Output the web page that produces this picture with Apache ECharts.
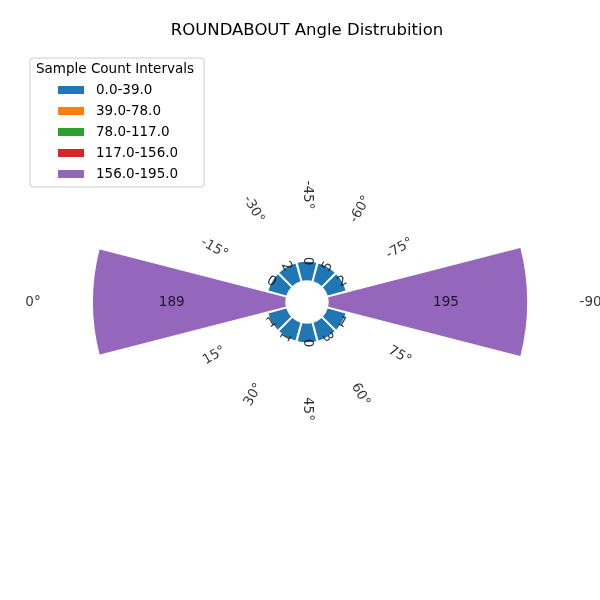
<!DOCTYPE html>
<html>
<head>
<meta charset="utf-8">
<script src="https://cdn.jsdelivr.net/npm/echarts@6/dist/echarts.min.js"></script>
<style>html,body{margin:0;padding:0;background:#fff}#c{width:600px;height:600px}</style>
</head>
<body>
<div id="c"></div>
<script>
// ---- data ----
var thetaBins = [-90, -75, -60, -45, -30, -15, 0, 15, 30, 45, 60, 75];
var tickLabels = ['-90°', '-75°', '-60°', '-45°', '-30°', '-15°', '0°', '15°', '30°', '45°', '60°', '75°'];
var counts = [195, 2, 5, 0, 2, 0, 189, 1, 1, 0, 3, 1];
var intervalEdges = [0, 39, 78, 117, 156, 195];
var intervalLabels = ['0.0-39.0', '39.0-78.0', '78.0-117.0', '117.0-156.0', '156.0-195.0'];
var intervalColors = ['#1f77b4', '#ff7f0e', '#2ca02c', '#d62728', '#9467bd'];

var FONT = 'DejaVu Sans';
var maxCount = Math.max.apply(null, counts);
var minH = 0.1 * maxCount;
function dispH(c) { return Math.max(c, minH); }
function intervalOf(c) {
  for (var k = 0; k < intervalLabels.length; k++) {
    var lo = intervalEdges[k], hi = intervalEdges[k + 1];
    if (c >= lo && (c < hi || (k === intervalLabels.length - 1 && c <= hi))) return k;
  }
  return 0;
}
// geometric angle (deg, ccw from east) of a theta bin: 0° at west, -45° at top
function geo(t) { return 180 + 2 * t; }
function radialRot(t) {
  var g = ((geo(t) % 360) + 360) % 360;
  if (g >= 270) g -= 360;
  if (g >= 90) g -= 180;
  return g;
}

var series = [];
intervalLabels.forEach(function (name, k) {
  series.push({
    type: 'bar', name: name, coordinateSystem: 'polar', stack: 'bins',
    barCategoryGap: '4%',
    itemStyle: { color: intervalColors[k], borderColor: '#ffffff', borderWidth: 1.5 },
    data: counts.map(function (c) { return intervalOf(c) === k ? dispH(c) : '-'; }),
    z: 2
  });
});

// count labels
series.push({
  type: 'scatter', coordinateSystem: 'polar', symbolSize: 0, z: 5, silent: true,
  data: counts.map(function (c, i) {
    var h = dispH(c);
    var r = h > 50 ? h * 0.59 : h;
    return {
      value: [r, i],
      label: { show: true, position: 'inside', formatter: String(c), rotate: radialRot(thetaBins[i]),
        color: '#000', fontSize: 13.5, fontFamily: FONT }
    };
  })
});

// angular tick labels
series.push({
  type: 'scatter', coordinateSystem: 'polar', symbolSize: 0, z: 5, silent: true,
  data: thetaBins.map(function (t, i) {
    var r = t === 0 ? 246.8 : (t === -90 ? 259.5 : 83.9);
    return {
      value: [r, i],
      label: { show: true, position: 'inside', formatter: tickLabels[i], rotate: radialRot(t),
        color: '#000', fontSize: 13.5, fontFamily: FONT }
    };
  })
});

var option = {
  animation: false,
  backgroundColor: '#ffffff',
  title: [
    { text: 'ROUNDABOUT Angle Distrubition', left: 307, textAlign: 'center', top: 22, padding: 0,
      textStyle: { fontFamily: FONT, fontSize: 16.5, fontWeight: 'normal', color: '#000' } },
    { text: 'Sample Count Intervals', left: 36, top: 62, padding: 0,
      textStyle: { fontFamily: FONT, fontSize: 13.5, fontWeight: 'normal', color: '#000' } }
  ],
  legend: {
    data: intervalLabels, orient: 'vertical', left: 30, top: 58,
    padding: [25, 26, 6, 26], itemGap: 7, itemWidth: 28, itemHeight: 10,
    icon: 'rect', selectedMode: false,
    borderColor: '#cccccc', borderWidth: 1, borderRadius: 3,
    textStyle: { fontFamily: FONT, fontSize: 13.5, color: '#000', padding: [0, 0, 0, 6] }
  },
  polar: { center: [307, 302], radius: [21, 21 + 1.025 * 300] },
  angleAxis: {
    type: 'category', data: tickLabels, startAngle: -15, clockwise: false,
    axisLine: { show: false }, axisTick: { show: false }, axisLabel: { show: false }, splitLine: { show: false }
  },
  radiusAxis: {
    type: 'value', min: 0, max: 300,
    axisLine: { show: false }, axisTick: { show: false }, axisLabel: { show: false }, splitLine: { show: false }
  },
  series: series
};
var chart = echarts.init(document.getElementById('c'), null, { renderer: 'canvas' });
chart.setOption(option);
</script>
</body>
</html>
